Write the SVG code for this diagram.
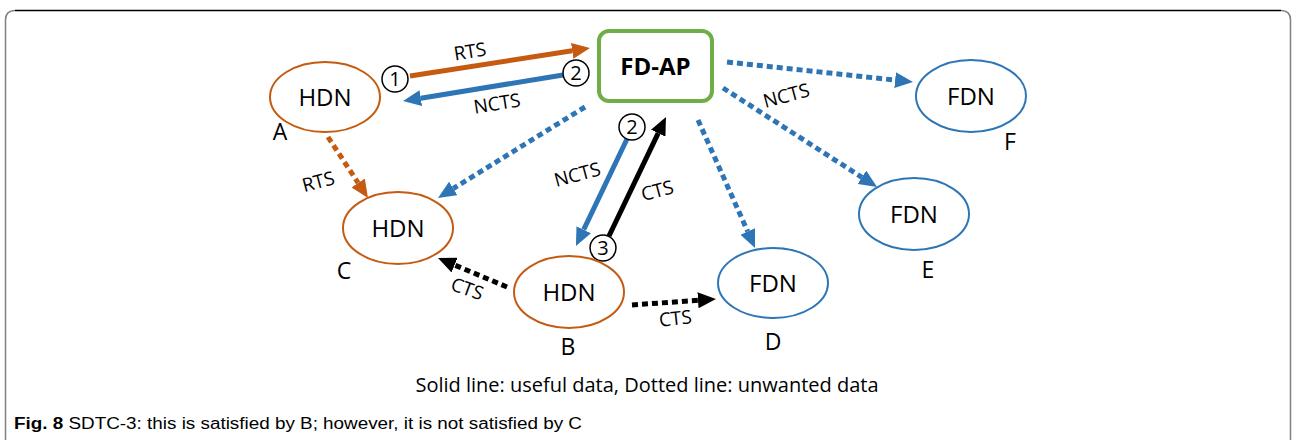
<svg xmlns="http://www.w3.org/2000/svg" width="1292" height="440" viewBox="0 0 1292 440">
  <style>
    .hdn { fill: #ffffff; stroke: #C55A11; stroke-width: 2; }
    .fdn { fill: #ffffff; stroke: #2E75B6; stroke-width: 2; }
    .ap { fill: #ffffff; stroke: #70AD47; stroke-width: 4; }
    .node-text { font-family: "Open Sans", "Noto Sans", sans-serif; font-size: 24px; fill: #000; text-anchor: middle; }
    .ap-text { font-family: "Open Sans", "Noto Sans", sans-serif; font-size: 24px; font-weight: bold; fill: #000; text-anchor: middle; }
    .letter { font-family: "Open Sans", "Noto Sans", sans-serif; font-size: 23px; fill: #000; text-anchor: middle; }
    .edge-label { font-family: "Open Sans", "Noto Sans", sans-serif; font-size: 19px; fill: #000; text-anchor: middle; }
    .solid { fill: none; stroke-width: 5; }
    .dotted { fill: none; stroke-width: 5; stroke-dasharray: 6 4; }
    .orange { stroke: #C55A11; }
    .blue { stroke: #2E75B6; }
    .black { stroke: #000000; }
    .step circle { fill: #ffffff; stroke: #000; stroke-width: 1.5; }
    .step text { font-family: "Open Sans", "Noto Sans", sans-serif; font-size: 20px; fill: #000; text-anchor: middle; }
    .legend { font-family: "Open Sans", "Noto Sans", sans-serif; font-size: 20px; fill: #000; text-anchor: middle; }
    .caption { font-family: "Liberation Sans Narrow", "Liberation Sans", sans-serif; font-size: 16px; fill: #000; }
  </style>
  <defs>
    <marker id="head-orange" viewBox="0 0 18 16" refX="0" refY="8" markerWidth="18" markerHeight="16" markerUnits="userSpaceOnUse" orient="auto">
      <path d="M0,0 L18,8 L0,16 z" fill="#C55A11"/>
    </marker>
    <marker id="head-blue" viewBox="0 0 18 16" refX="0" refY="8" markerWidth="18" markerHeight="16" markerUnits="userSpaceOnUse" orient="auto">
      <path d="M0,0 L18,8 L0,16 z" fill="#2E75B6"/>
    </marker>
    <marker id="head-black" viewBox="0 0 18 16" refX="0" refY="8" markerWidth="18" markerHeight="16" markerUnits="userSpaceOnUse" orient="auto">
      <path d="M0,0 L18,8 L0,16 z" fill="#000000"/>
    </marker>
  </defs>

  <rect width="1292" height="440" fill="#ffffff"/>

  <!-- figure frame -->
  <g id="frame" fill="none">
    <path d="M5.5,440 V20 Q5.5,10.5 15,10.5" stroke="#808080" stroke-width="1.5"/>
    <path d="M15,10.5 H1281" stroke="#000000" stroke-width="1.5"/>
    <path d="M1281,10.5 Q1290.5,10.5 1290.5,20 V440" stroke="#808080" stroke-width="1.5"/>
  </g>

  <!-- connectors -->
  <g id="connectors">
    <line class="solid orange" x1="410" y1="76" x2="572.2" y2="50.8" marker-end="url(#head-orange)"/>
    <line class="solid blue" x1="563" y1="75" x2="420.8" y2="98.2" marker-end="url(#head-blue)"/>
    <line class="dotted blue" x1="585" y1="107" x2="453.3" y2="188.5" marker-end="url(#head-blue)"/>
    <line class="dotted orange" x1="328" y1="137" x2="358.1" y2="182.9" marker-end="url(#head-orange)"/>
    <line class="solid blue" x1="627" y1="139" x2="583.7" y2="229.7" marker-end="url(#head-blue)"/>
    <line class="solid black" x1="609" y1="236" x2="658.2" y2="133.2" marker-end="url(#head-black)"/>
    <line class="dotted black" x1="507" y1="287" x2="454.6" y2="265" marker-end="url(#head-black)"/>
    <line class="dotted black" x1="632" y1="305" x2="698" y2="300.3" marker-end="url(#head-black)"/>
    <line class="dotted blue" x1="727" y1="62" x2="895.1" y2="80.1" marker-end="url(#head-blue)"/>
    <line class="dotted blue" x1="723" y1="88" x2="861.9" y2="177.3" marker-end="url(#head-blue)"/>
    <line class="dotted blue" x1="698" y1="120" x2="747.7" y2="231.5" marker-end="url(#head-blue)"/>

    <!-- connector labels -->
    <text class="edge-label" transform="translate(471,58) rotate(-9)">RTS</text>
    <text class="edge-label" transform="translate(498,110) rotate(-9)">NCTS</text>
    <text class="edge-label" transform="translate(320,188) rotate(-15)">RTS</text>
    <text class="edge-label" transform="translate(579,181) rotate(-15)">NCTS</text>
    <text class="edge-label" transform="translate(659,197) rotate(-15)">CTS</text>
    <text class="edge-label" transform="translate(465,295) rotate(20)">CTS</text>
    <text class="edge-label" transform="translate(676,325) rotate(-6)">CTS</text>
    <text class="edge-label" transform="translate(788,102) rotate(-15)">NCTS</text>

    <!-- step markers -->
    <g class="step">
      <circle cx="395" cy="79" r="13"/>
      <text x="395" y="86">1</text>
      <circle cx="576" cy="73" r="13"/>
      <text x="576" y="80">2</text>
      <circle cx="632" cy="127" r="13"/>
      <text x="632" y="134">2</text>
      <circle cx="603" cy="248" r="13"/>
      <text x="603" y="255">3</text>
    </g>
  </g>

  <!-- nodes -->
  <g id="node-ap">
    <rect class="ap" x="599" y="31" width="113" height="70" rx="10"/>
    <text class="ap-text" x="655.5" y="75">FD-AP</text>
  </g>
  <g id="node-a">
    <ellipse class="hdn" cx="325" cy="97" rx="55" ry="35"/>
    <text class="node-text" x="325" y="106">HDN</text>
    <text class="letter" x="280" y="140">A</text>
  </g>
  <g id="node-c">
    <ellipse class="hdn" cx="398" cy="228" rx="55" ry="36"/>
    <text class="node-text" x="398" y="237">HDN</text>
    <text class="letter" x="344" y="279">C</text>
  </g>
  <g id="node-b">
    <ellipse class="hdn" cx="569" cy="292" rx="55" ry="36"/>
    <text class="node-text" x="569" y="301">HDN</text>
    <text class="letter" x="568" y="355">B</text>
  </g>
  <g id="node-d">
    <ellipse class="fdn" cx="773" cy="283" rx="55" ry="35"/>
    <text class="node-text" x="773" y="292">FDN</text>
    <text class="letter" x="773" y="350">D</text>
  </g>
  <g id="node-e">
    <ellipse class="fdn" cx="914" cy="214" rx="55" ry="36"/>
    <text class="node-text" x="914" y="223">FDN</text>
    <text class="letter" x="928" y="278">E</text>
  </g>
  <g id="node-f">
    <ellipse class="fdn" cx="971" cy="96" rx="55" ry="36"/>
    <text class="node-text" x="971" y="105">FDN</text>
    <text class="letter" x="1010" y="150">F</text>
  </g>

  <!-- legend and caption -->
  <text class="legend" x="647" y="392">Solid line: useful data, Dotted line: unwanted data</text>
  <text class="caption" x="14" y="429" textLength="568" lengthAdjust="spacingAndGlyphs"><tspan font-weight="bold">Fig. 8</tspan> SDTC-3: this is satisfied by B; however, it is not satisfied by C</text>
</svg>
